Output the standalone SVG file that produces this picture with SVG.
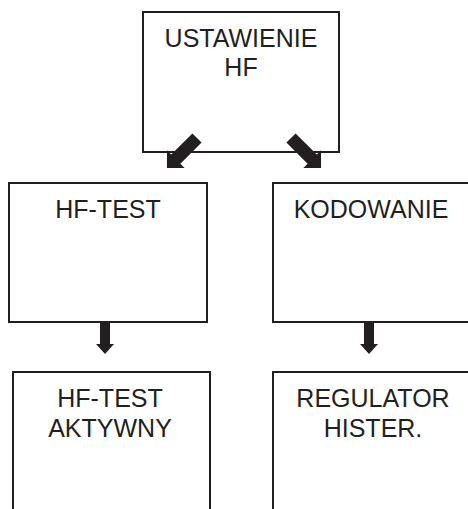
<svg xmlns="http://www.w3.org/2000/svg" width="468" height="509" viewBox="0 0 468 509">
  <defs>
    <style>
      .box { fill: #ffffff; stroke: #231f20; stroke-width: 2; }
      .lbl { font-family: "Liberation Sans", Arial, sans-serif; font-size: 25px; fill: #231f20; text-anchor: middle; }
      .arr { fill: #231f20; }
    </style>
    <!-- thick block arrow, tail at origin, pointing along +y -->
    <path id="diagArrow" d="M-6.5,0 L6.5,0 L6.5,30 L12.5,30 L0,42.5 L-12.5,30 L-6.5,30 Z"/>
    <path id="downArrow" d="M-5,0 L5,0 L5,23 L9,23 L0,33 L-9,23 L-5,23 Z"/>
  </defs>
  <rect width="468" height="509" fill="#ffffff"/>

  <g id="ustawienie-hf">
    <rect class="box" x="143" y="12" width="196" height="140"/>
    <text class="lbl" x="241" y="47">USTAWIENIE</text>
    <text class="lbl" x="241" y="76">HF</text>
  </g>

  <g id="hf-test">
    <rect class="box" x="9" y="183" width="198" height="139"/>
    <text class="lbl" x="108" y="218">HF-TEST</text>
  </g>

  <g id="kodowanie">
    <rect class="box" x="273" y="183" width="210" height="139"/>
    <text class="lbl" x="371" y="218">KODOWANIE</text>
  </g>

  <g id="hf-test-aktywny">
    <rect class="box" x="13" y="372" width="197" height="160"/>
    <text class="lbl" x="110" y="407">HF-TEST</text>
    <text class="lbl" x="110" y="437">AKTYWNY</text>
  </g>

  <g id="regulator-hister">
    <rect class="box" x="273" y="372" width="210" height="160"/>
    <text class="lbl" x="373" y="407">REGULATOR</text>
    <text class="lbl" x="373" y="437">HISTER.</text>
  </g>

  <g id="connectors" class="arr">
    <use href="#diagArrow" transform="translate(197,138) rotate(45)"/>
    <use href="#diagArrow" transform="translate(291,138) rotate(-45)"/>
    <use href="#downArrow" transform="translate(105,321)"/>
    <use href="#downArrow" transform="translate(369,321)"/>
  </g>
</svg>
